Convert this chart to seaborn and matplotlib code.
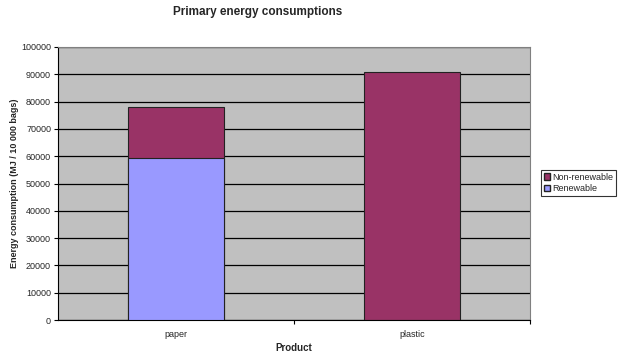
import matplotlib
matplotlib.use("Agg")
import matplotlib.pyplot as plt
import seaborn as sns
import pandas as pd
from matplotlib.patches import Patch
from matplotlib.ticker import FixedLocator

products = ["paper", "plastic"]
renewable = [59500, 0]
non_renewable = [18500, 91000]
yticks = list(range(0, 100001, 10000))

totals = [r + n for r, n in zip(renewable, non_renewable)]
df = pd.DataFrame({"product": products, "renewable": renewable, "total": totals})

sns.set_style("white")
plt.rcParams["font.family"] = ["Liberation Sans", "DejaVu Sans"]

fig = plt.figure(figsize=(6.21, 3.56), dpi=100)
ax = fig.add_axes([58 / 621, 36 / 356, 472 / 621, 273 / 356])
ax.set_facecolor("#C0C0C0")

col_nonren = "#993366"
col_ren = "#9999FF"

sns.barplot(data=df, x="product", y="total", color=col_nonren, width=0.41,
            edgecolor="#222222", linewidth=0.8, saturation=1, ax=ax, zorder=3)
sns.barplot(data=df, x="product", y="renewable", color=col_ren, width=0.41,
            edgecolor="#222222", linewidth=0.8, saturation=1, ax=ax, zorder=3)

ax.set_ylim(0, 100000)
ax.set_xlim(-0.5, 1.5)
ax.set_yticks(yticks)
ax.set_yticklabels([str(v) for v in yticks], fontsize=6.5)
ax.yaxis.grid(True, color="black", linewidth=0.9, zorder=1)
ax.set_axisbelow(True)
ax.tick_params(axis="y", length=3, width=0.8, color="black", pad=2, left=True)
ax.tick_params(axis="x", which="major", length=0, labelsize=6.5, pad=7)
ax.xaxis.set_minor_locator(FixedLocator([0.5, 1.5]))
ax.tick_params(axis="x", which="minor", length=3, width=0.8, color="black", bottom=True)

for side in ["top", "right"]:
    ax.spines[side].set_color("#808080")
    ax.spines[side].set_linewidth(0.8)
ax.spines["left"].set_color("black")
ax.spines["bottom"].set_color("black")

ax.set_xlabel("")
ax.set_ylabel("")
fig.text(294 / 621, 1 - 348 / 356, "Product", ha="center", va="center",
         fontsize=7, fontweight="bold")
fig.text(15 / 621, 1 - 183 / 356, "Energy consumption (MJ / 10 000 bags)", ha="center",
         va="center", rotation=90, fontsize=6.5, fontweight="bold")

fig.text(258 / 621, 1 - 12 / 356, "Primary energy consumptions", ha="center", va="center",
         fontsize=8.5, fontweight="bold")

handles = [Patch(facecolor=col_nonren, edgecolor="#222222", label="Non-renewable"),
           Patch(facecolor=col_ren, edgecolor="#222222", label="Renewable")]
leg = fig.legend(handles=handles, loc="upper left", bbox_to_anchor=(541 / 621, 1 - 170 / 356),
                 fontsize=6.5, frameon=True, fancybox=False, handlelength=0.7, handleheight=0.7,
                 handletextpad=0.2, borderpad=0.3, labelspacing=0.3, borderaxespad=0)
leg.get_frame().set_edgecolor("black")
leg.get_frame().set_linewidth(0.8)

fig.savefig("out.png", dpi=100, facecolor="white")
